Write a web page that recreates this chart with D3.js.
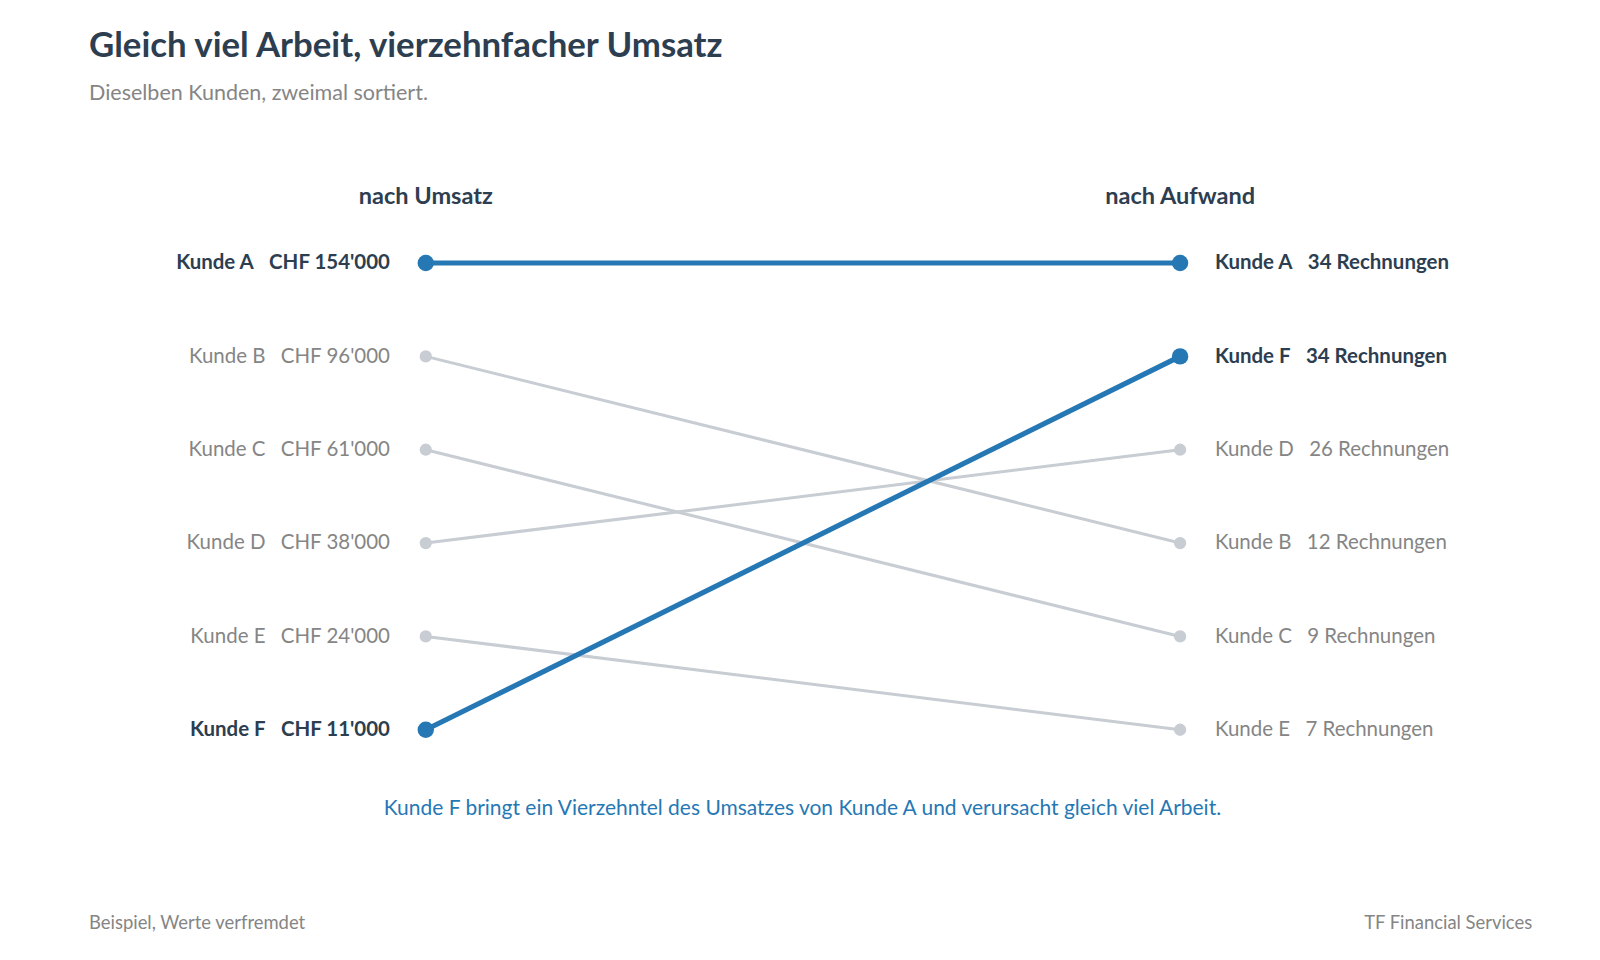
<!DOCTYPE html>
<html><head><meta charset="utf-8">
<script src="https://cdn.jsdelivr.net/npm/d3@7"></script>
<style>body{margin:0;background:#fff}svg{font-family:Lato,"Open Sans",sans-serif}</style>
</head><body><svg id="c" width="1600" height="960"></svg>
<script>
const customers = ["Kunde A","Kunde B","Kunde C","Kunde D","Kunde E","Kunde F"];
const revenue = ["CHF 154'000","CHF 96'000","CHF 61'000","CHF 38'000","CHF 24'000","CHF 11'000"];
const leftOrder = ["Kunde A","Kunde B","Kunde C","Kunde D","Kunde E","Kunde F"];
const rightOrder = ["Kunde A","Kunde F","Kunde D","Kunde B","Kunde C","Kunde E"];
const invoices = {"Kunde A":34,"Kunde B":12,"Kunde C":9,"Kunde D":26,"Kunde E":7,"Kunde F":34};
const highlight = ["Kunde A","Kunde F"];

const svg = d3.select("#c").append("g").attr("transform","scale(1.0235)");
const blue="#2678b4", grey="#c8cdd3", dark="#2c3e50", gtxt="#858585";
const y = d3.scalePoint().domain(d3.range(6)).range([257,713]);
const x = d3.scalePoint().domain(["left","right"]).range([416,1153]);
const LS=20;

svg.append("text").attr("x",87).attr("y",56).attr("font-size",34).attr("font-weight",700).attr("fill",dark).text("Gleich viel Arbeit, vierzehnfacher Umsatz");
svg.append("text").attr("x",87).attr("y",98).attr("font-size",21).attr("fill",gtxt).text("Dieselben Kunden, zweimal sortiert.");
svg.append("text").attr("x",x("left")).attr("y",199).attr("text-anchor","middle").attr("font-size",23).attr("font-weight",700).attr("fill",dark).text("nach Umsatz");
svg.append("text").attr("x",x("right")).attr("y",199).attr("text-anchor","middle").attr("font-size",23).attr("font-weight",700).attr("fill",dark).text("nach Aufwand");

const data = customers.map((c,i)=>({c, rev:revenue[i], li:leftOrder.indexOf(c), ri:rightOrder.indexOf(c), h:highlight.includes(c)}));
const ordered = data.filter(d=>!d.h).concat(data.filter(d=>d.h));
const g = svg.append("g");
ordered.forEach(d=>{
  const col=d.h?blue:grey;
  g.append("line").attr("x1",x("left")).attr("x2",x("right")).attr("y1",y(d.li)).attr("y2",y(d.ri))
   .attr("stroke",col).attr("stroke-width",d.h?5:3);
  [["left",d.li],["right",d.ri]].forEach(([s,i])=>g.append("circle").attr("cx",x(s)).attr("cy",y(i)).attr("r",d.h?8:6).attr("fill",col));
});
const amounts=[];
data.forEach(d=>{
  const fill=d.h?dark:gtxt, fw=d.h?700:400;
  amounts.push(svg.append("text").attr("x",381).attr("y",y(d.li)+6).attr("text-anchor","end").attr("font-size",LS).attr("font-weight",fw).attr("fill",fill).text(d.rev));
  const t=svg.append("text").attr("x",1187).attr("y",y(d.ri)+6).attr("font-size",LS).attr("font-weight",fw).attr("fill",fill);
  t.append("tspan").text(d.c);
  t.append("tspan").attr("dx",15).text(invoices[d.c]+" Rechnungen");
});
amounts.forEach((a,k)=>{
  const d=data[k]; const w=a.node().getComputedTextLength();
  svg.append("text").attr("x",381-w-15).attr("y",y(d.li)+6).attr("text-anchor","end").attr("font-size",LS).attr("font-weight",d.h?700:400).attr("fill",d.h?dark:gtxt).text(d.c);
});
svg.append("text").attr("x",784).attr("y",796).attr("text-anchor","middle").attr("font-size",20.5).attr("fill",blue).text("Kunde F bringt ein Vierzehntel des Umsatzes von Kunde A und verursacht gleich viel Arbeit.");
svg.append("text").attr("x",87).attr("y",908).attr("font-size",18).attr("fill",gtxt).text("Beispiel, Werte verfremdet");
svg.append("text").attr("x",1497).attr("y",908).attr("text-anchor","end").attr("font-size",18).attr("fill",gtxt).text("TF Financial Services");
</script></body></html>
